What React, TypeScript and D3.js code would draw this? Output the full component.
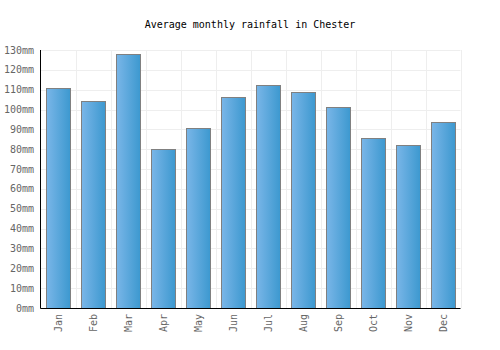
import React from "react";
import * as d3 from "d3";

const months = ["Jan", "Feb", "Mar", "Apr", "May", "Jun", "Jul", "Aug", "Sep", "Oct", "Nov", "Dec"];
const rainfall = [110.7, 104.1, 127.8, 80.0, 90.5, 106.2, 112.2, 108.7, 101.1, 85.5, 82.0, 93.6];
const yTicks = [0, 10, 20, 30, 40, 50, 60, 70, 80, 90, 100, 110, 120, 130];
const title = "Average monthly rainfall in Chester";

export default function App() {
  const W = 500, H = 350;
  const left = 40.5, right = 460.5, top = 50, bottom = 308;
  const x = d3.scaleBand<string>().domain(months).range([left, right]).paddingInner(0.31).paddingOuter(0.155);
  const band = d3.scaleBand<string>().domain(months).range([left, right]);
  const y = d3.scaleLinear().domain([0, 130]).range([bottom, top]);
  const font = "'DejaVu Sans Mono', monospace";
  return (
    <svg width={W} height={H} style={{ position: "absolute", left: 0, top: 0 }}>
      <defs>
        <linearGradient id="barGrad" x1="0" x2="1" y1="0" y2="0">
          <stop offset="0%" stopColor="#7ab6e8" />
          <stop offset="100%" stopColor="#3c98cf" />
        </linearGradient>
      </defs>
      <rect width={W} height={H} fill="#fff" />
      <text x={250} y={28} textAnchor="middle" fontFamily={font} fontSize={10} fill="#000">{title}</text>
      {yTicks.map((t) => (
        <line key={"h" + t} x1={left} x2={right} y1={Math.round(y(t)) + 0.5} y2={Math.round(y(t)) + 0.5} stroke="#eeeeee" />
      ))}
      {months.map((m) => (
        <line key={"v" + m} x1={Math.round(band(m)! + band.bandwidth()) + 0.5} x2={Math.round(band(m)! + band.bandwidth()) + 0.5} y1={top} y2={bottom} stroke="#eeeeee" />
      ))}
      {months.map((m, i) => (
        <rect key={"b" + m} x={Math.round(x(m)!) + 0.5} y={Math.round(y(rainfall[i])) + 0.5} width={Math.round(x.bandwidth())} height={Math.round(bottom - y(rainfall[i]))} fill="url(#barGrad)" stroke="#808080" strokeWidth={1} />
      ))}
      <line x1={left} x2={left} y1={top} y2={bottom + 0.5} stroke="#000" />
      <line x1={left} x2={right} y1={bottom + 0.5} y2={bottom + 0.5} stroke="#000" />
      {yTicks.map((t) => (
        <text key={"yt" + t} x={34} y={y(t) + 3.5} textAnchor="end" fontFamily={font} fontSize={10} fill="#666">{t}mm</text>
      ))}
      {months.map((m) => {
        const cx = band(m)! + band.bandwidth() / 2;
        return (
          <text key={"xt" + m} transform={`translate(${cx + 3.5},314) rotate(-90)`} textAnchor="end" fontFamily={font} fontSize={10} fill="#666">{m}</text>
        );
      })}
    </svg>
  );
}
